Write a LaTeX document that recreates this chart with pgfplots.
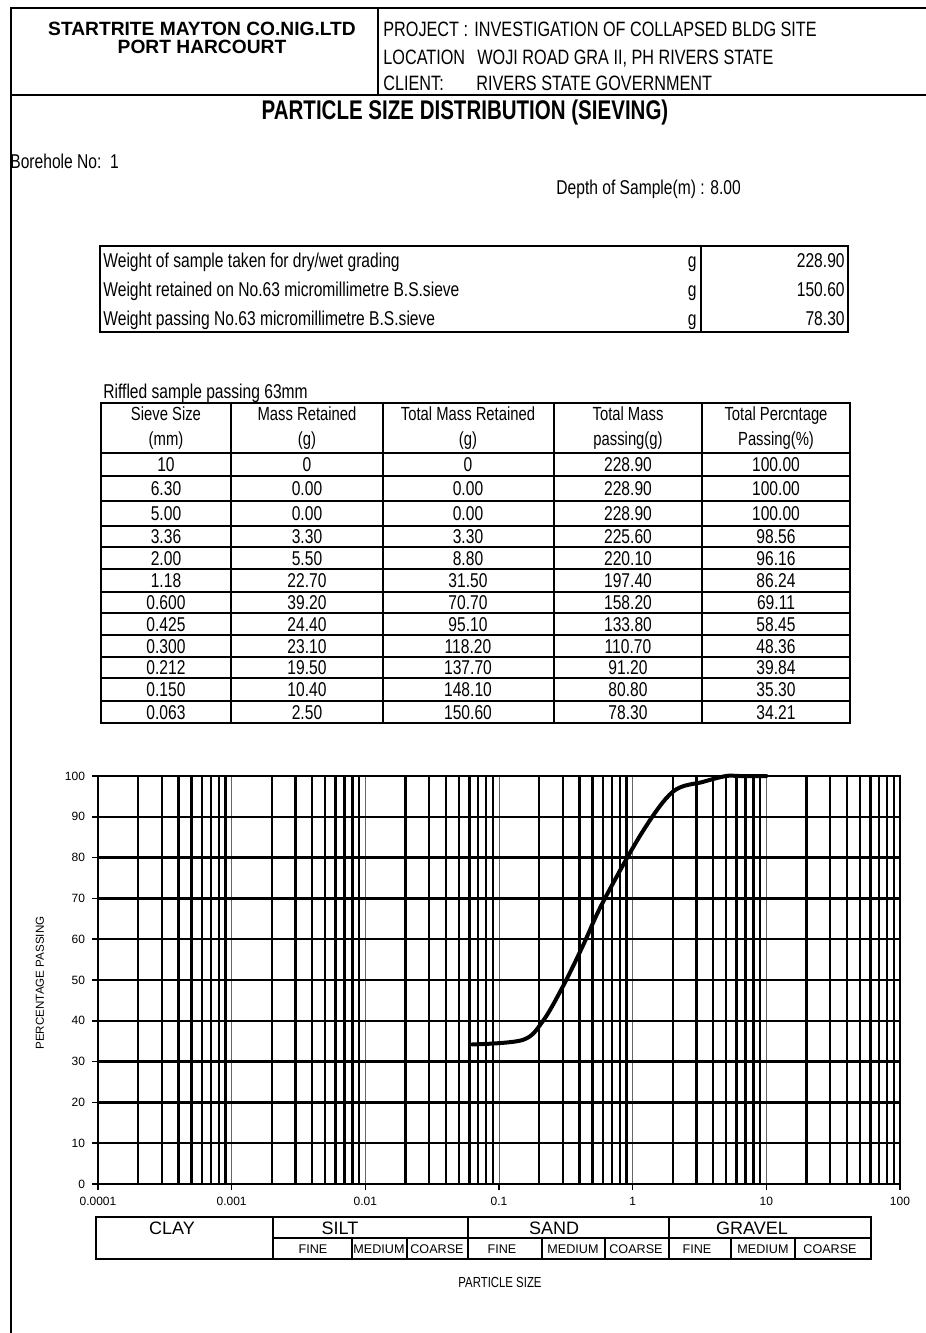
\documentclass[border=0pt]{standalone}
\usepackage{fontspec}
\setmainfont{Liberation Sans}
\newfontfamily\narrow{Liberation Sans}[FakeStretch=0.78]
\newfontfamily\narrowb{Liberation Sans}[FakeStretch=0.76]
\usepackage{pgfplots}
\pgfplotsset{compat=1.18}

% fonts used on the sheet (picture is drawn at 0.5pt per reference pixel)
\newcommand\tbody{\fontsize{10}{11}\selectfont\narrow}
\newcommand\thead{\fontsize{9.5}{10}\selectfont\narrow}

\begin{document}
\begin{tikzpicture}[t/.style={inner sep=0pt,text height=7pt,text depth=0pt}]
\useasboundingbox (0,0) rectangle (463pt,-666.5pt);

\begin{scope}[x=0.5pt,y=-0.5pt]
  % page frame and header
  \draw[line width=1pt] (11,1333) -- (11,8) -- (926,8);
  \draw[line width=1pt] (11,95) -- (926,95);
  \draw[line width=0.8pt] (378,8) -- (378,95);
  \node[t,font=\fontsize{9.6}{10}\selectfont\bfseries] at (202,28) {STARTRITE MAYTON CO.NIG.LTD};
  \node[t,font=\fontsize{9.6}{10}\selectfont\bfseries] at (202,47) {PORT HARCOURT};
  \begin{scope}[every node/.style={t,anchor=west,font=\fontsize{10.4}{11}\selectfont\narrow}]
    \node at (383,29) {PROJECT :};
    \node at (474,29) {INVESTIGATION OF COLLAPSED BLDG SITE};
    \node at (383,57) {LOCATION};
    \node at (477,57) {WOJI ROAD GRA II, PH RIVERS STATE};
    \node at (383,83) {CLIENT:};
    \node at (476,83) {RIVERS STATE GOVERNMENT};
  \end{scope}
  \node[t,text height=9pt,font=\fontsize{13.5}{14}\selectfont\narrowb\bfseries] at (465,110) {PARTICLE SIZE DISTRIBUTION (SIEVING)};

  \node[t,anchor=west,font=\tbody] at (10,161) {Borehole No:\ \ 1};
  \node[t,anchor=west,font=\tbody] at (556,187) {Depth of Sample(m) : 8.00};

  % weights table
  \draw[line width=0.9pt] (100,246) rectangle (848,332);
  \draw[line width=0.9pt] (701,246) -- (701,332);
  \begin{scope}[every node/.style={t,font=\tbody}]
    \node[anchor=west] at (103,260) {Weight of sample taken for dry/wet grading};
    \node[anchor=west] at (103,289) {Weight retained on No.63 micromillimetre B.S.sieve};
    \node[anchor=west] at (103,318) {Weight passing No.63 micromillimetre B.S.sieve};
    \node[anchor=east] at (697,260) {g};
    \node[anchor=east] at (697,289) {g};
    \node[anchor=east] at (697,318) {g};
    \node[anchor=east] at (845,260) {228.90};
    \node[anchor=east] at (845,289) {150.60};
    \node[anchor=east] at (845,318) {78.30};
  \end{scope}

  % sieve table
  \node[t,anchor=west,font=\tbody] at (103,391) {Riffled sample passing 63mm};
  \draw[line width=0.9pt] (101,403) rectangle (850,723);
  \foreach \xx in {231,383,554,702} \draw[line width=0.9pt] (\xx,403) -- (\xx,723);
  \foreach \yy in {453,476,501,526,547,569,592,613,635,657,678,701}
    \draw[line width=0.9pt] (101,\yy) -- (850,\yy);
  \begin{scope}[every node/.style={t,font=\thead}]
    \node at (166,413) {Sieve Size};          \node at (166,438) {(mm)};
    \node at (307,413) {Mass Retained};       \node at (307,438) {(g)};
    \node at (468,413) {Total Mass Retained}; \node at (468,438) {(g)};
    \node at (628,413) {Total Mass};          \node at (628,438) {passing(g)};
    \node at (776,413) {Total Percntage};     \node at (776,438) {Passing(\%)};
  \end{scope}
  \foreach \yy/\a/\b/\c/\d/\e in {
      464.5/10/0/0/228.90/100.00,
      488.5/6.30/0.00/0.00/228.90/100.00,
      513.5/5.00/0.00/0.00/228.90/100.00,
      536.5/3.36/3.30/3.30/225.60/98.56,
      558/2.00/5.50/8.80/220.10/96.16,
      580.5/1.18/22.70/31.50/197.40/86.24,
      602.5/0.600/39.20/70.70/158.20/69.11,
      624/0.425/24.40/95.10/133.80/58.45,
      646/0.300/23.10/118.20/110.70/48.36,
      667.5/0.212/19.50/137.70/91.20/39.84,
      689.5/0.150/10.40/148.10/80.80/35.30,
      712/0.063/2.50/150.60/78.30/34.21}{
    \node[t,font=\tbody] at (166,\yy) {\a};
    \node[t,font=\tbody] at (307,\yy) {\b};
    \node[t,font=\tbody] at (468,\yy) {\c};
    \node[t,font=\tbody] at (628,\yy) {\d};
    \node[t,font=\tbody] at (776,\yy) {\e};
  }

  % axis title and soil classes
  \node[rotate=90,inner sep=0pt,font=\fontsize{5.8}{6}\selectfont] at (40,983) {PERCENTAGE PASSING};
  \draw[line width=0.9pt] (96,1217) rectangle (871,1259);
  \draw[line width=0.9pt] (273,1238) -- (871,1238);
  \foreach \xx in {273,468,669} \draw[line width=0.9pt] (\xx,1217) -- (\xx,1259);
  \foreach \xx in {352,407,542,605,731,795} \draw[line width=0.9pt] (\xx,1238) -- (\xx,1259);
  \begin{scope}[every node/.style={t,text height=6.5pt,font=\fontsize{9}{10}\selectfont}]
    \node at (172,1228) {CLAY};
    \node at (340,1228) {SILT};
    \node at (554,1228) {SAND};
    \node at (752,1228) {GRAVEL};
  \end{scope}
  \begin{scope}[every node/.style={t,text height=4.5pt,font=\fontsize{6.3}{7}\selectfont}]
    \foreach \xx/\tx in {313/FINE,379/MEDIUM,437/COARSE,502/FINE,573/MEDIUM,636/COARSE,697/FINE,763/MEDIUM,830/COARSE}
      \node at (\xx,1249) {\tx};
  \end{scope}
  \node[t,text height=5pt,font=\fontsize{7.3}{8}\selectfont\narrow] at (500,1282) {PARTICLE SIZE};
\end{scope}

\begin{axis}[
  at={(49pt,-592pt)}, anchor=south west,
  scale only axis, width=401pt, height=204pt,
  xmode=log, xmin=1e-4, xmax=100, ymin=0, ymax=100,
  xtick={1e-4,1e-3,1e-2,1e-1,1,10,100},
  xticklabels={0.0001,0.001,0.01,0.1,1,10,100},
  minor xtick={2e-4,3e-4,4e-4,5e-4,6e-4,7e-4,8e-4,9e-4,
               2e-3,3e-3,4e-3,5e-3,6e-3,7e-3,8e-3,9e-3,
               2e-2,3e-2,4e-2,5e-2,6e-2,7e-2,8e-2,9e-2,
               0.2,0.3,0.4,0.5,0.6,0.7,0.8,0.9,
               2,3,4,5,6,7,8,9,
               20,30,40,50,60,70,80,90},
  ytick={0,10,...,100},
  yticklabels={0,10,20,30,40,50,60,70,80,90,100},
  minor ytick={10,20,...,90},
  xmajorgrids, xminorgrids, yminorgrids,
  major grid style={black!60,line width=0.4pt},
  minor grid style={black,line width=1.2pt},
  axis line style={black,line width=1pt},
  tick pos=left, tick align=outside,
  major tick length=3pt, minor tick length=0pt,
  tick style={black,line width=0.8pt},
  ticklabel style={font=\fontsize{6}{7}\selectfont},
  clip=false,
]
\addplot[black, line width=2pt, smooth, tension=0.55, line cap=round] coordinates {
  (0.063,34.21) (0.150,35.30) (0.212,39.84) (0.300,48.36) (0.425,58.45)
  (0.600,69.11) (1.18,86.24) (2.00,96.16) (3.36,98.56) (5.00,100)
  (6.30,100) (10,100)};
\end{axis}
\end{tikzpicture}
\end{document}
